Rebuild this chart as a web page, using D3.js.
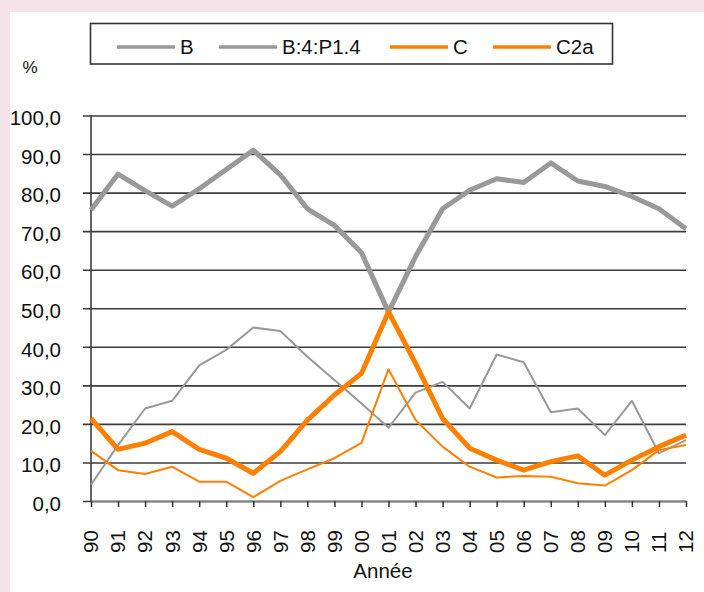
<!DOCTYPE html>
<html>
<head>
<meta charset="utf-8">
<script src="https://cdn.jsdelivr.net/npm/d3@7"></script>
<style>
  body { margin: 0; background: #f4e4ea; }
  svg { display: block; font-family: "Liberation Sans", Arial, sans-serif; }
</style>
</head>
<body>
<svg id="vis"></svg>
<script>
// Données
const ANNEES = ["90","91","92","93","94","95","96","97","98","99","00","01","02","03","04","05","06","07","08","09","10","11","12"];
const SERIE_B = [75.5, 84.8, 80.5, 76.5, 81, 86, 91, 84.6, 75.8, 71.5, 64.4, 49, 63.4, 75.8, 80.6, 83.6, 82.6, 87.7, 83, 81.6, 79, 75.8, 70.6];
const SERIE_B4 = [4.2, 14.5, 24, 26, 35.2, 39.2, 45, 44.1, 37.4, 31.4, 25.3, 19, 28.1, 30.9, 24, 38, 36, 23, 24, 17.1, 26, 12.4, 15.8];
const SERIE_C = [21.4, 13.4, 15, 18, 13.4, 11.1, 7.2, 12.8, 21, 27.5, 33.1, 49.1, 35.7, 21.4, 13.7, 10.6, 8, 10.2, 11.7, 6.7, 10.6, 14.1, 17.1];
const SERIE_C2A = [13, 8, 7, 8.9, 5, 5, 1, 5.2, 8.2, 11.1, 15.1, 34.2, 21, 14.1, 8.9, 6.1, 6.5, 6.3, 4.6, 4, 8, 13.2, 14.5];
const NOMS = ["B", "B:4:P1.4", "C", "C2a"];
const TICKS_Y = [0, 10, 20, 30, 40, 50, 60, 70, 80, 90, 100];

const WIDTH = 704;
const HEIGHT = 592;
const GRIS = "#999999";
const ORANGE = "#ff8000";
const FONT = "20.5px";

const svg = d3.select("#vis")
    .attr("width", WIDTH)
    .attr("height", HEIGHT);

// fond
svg.append("rect").attr("width", WIDTH).attr("height", HEIGHT).attr("fill", "#f4e4ea");
svg.append("rect").attr("x", 10).attr("y", 12).attr("width", WIDTH - 10).attr("height", HEIGHT - 12).attr("fill", "#ffffff");

const escalaX = d3.scalePoint().domain(ANNEES).range([91, 686]);
const escalaY = d3.scaleLinear().domain([0, 100]).range([501, 115.5]);

// grille + étiquettes Y
const ejeY = d3.axisLeft(escalaY)
    .tickValues(TICKS_Y)
    .tickSize(686 - 83)
    .tickPadding(22)
    .tickFormat(d => d3.format(".1f")(d).replace(".", ","));
const gY = svg.append("g").attr("transform", "translate(686,0)").call(ejeY);
gY.select(".domain").remove();
gY.selectAll(".tick line").attr("stroke", "#3c3c3c").attr("stroke-width", 1.6);
gY.selectAll(".tick text")
    .attr("font-size", FONT)
    .attr("font-family", "Liberation Sans, Arial, sans-serif")
    .attr("fill", "#111")
    .attr("dy", "0.45em");

// ligne de l'axe Y
svg.append("line")
    .attr("x1", escalaX("90")).attr("x2", escalaX("90"))
    .attr("y1", escalaY(100)).attr("y2", escalaY(0))
    .attr("stroke", "#3c3c3c").attr("stroke-width", 1.6);

// axe X
const ejeX = d3.axisBottom(escalaX).tickSizeInner(6).tickSizeOuter(0).tickFormat("");
const gX = svg.append("g").attr("transform", `translate(0,${escalaY(0)})`).call(ejeX);
gX.select(".domain").attr("stroke", "#808080").attr("stroke-width", 2);
gX.selectAll(".tick line").attr("stroke", "#333").attr("stroke-width", 1.5);

svg.append("g")
    .selectAll("text")
    .data(ANNEES)
    .join("text")
    .attr("transform", d => `translate(${escalaX(d)},553) rotate(-90)`)
    .attr("dy", "0.36em")
    .attr("font-size", FONT)
    .attr("fill", "#111")
    .text(d => d);

// séries
const series = [
    { nom: NOMS[0], valeurs: SERIE_B, couleur: GRIS, epaisseur: 5 },
    { nom: NOMS[1], valeurs: SERIE_B4, couleur: GRIS, epaisseur: 2 },
    { nom: NOMS[2], valeurs: SERIE_C, couleur: ORANGE, epaisseur: 5 },
    { nom: NOMS[3], valeurs: SERIE_C2A, couleur: ORANGE, epaisseur: 2 },
];

const linea = d3.line()
    .x((d, i) => escalaX(ANNEES[i]))
    .y(d => escalaY(d));

svg.append("g")
    .selectAll("path")
    .data(series)
    .join("path")
    .attr("d", d => linea(d.valeurs))
    .attr("fill", "none")
    .attr("stroke", d => d.couleur)
    .attr("stroke-width", d => d.epaisseur)
    .attr("stroke-linejoin", "round");

// légende
svg.append("rect")
    .attr("x", 90.5).attr("y", 23.5)
    .attr("width", 522).attr("height", 40.5)
    .attr("fill", "#fff")
    .attr("stroke", "#333").attr("stroke-width", 1.6);

const posLegende = [117, 219, 390, 493];
const leyenda = svg.append("g")
    .selectAll("g")
    .data(series)
    .join("g")
    .attr("transform", (d, i) => `translate(${posLegende[i]},47)`);
leyenda.append("line")
    .attr("x1", 0).attr("x2", 58)
    .attr("stroke", d => d.couleur)
    .attr("stroke-width", 3.5);
leyenda.append("text")
    .attr("x", 63)
    .attr("dy", "0.36em")
    .attr("font-size", FONT)
    .attr("fill", "#111")
    .text(d => d.nom);

// titres des axes
svg.append("text")
    .attr("x", 30).attr("y", 67)
    .attr("dy", "0.36em")
    .attr("text-anchor", "middle")
    .attr("font-size", "17px")
    .attr("fill", "#111")
    .text("%");

svg.append("text")
    .attr("x", 383).attr("y", 578)
    .attr("text-anchor", "middle")
    .attr("font-size", FONT)
    .attr("fill", "#111")
    .text("Année");
</script>
</body>
</html>
